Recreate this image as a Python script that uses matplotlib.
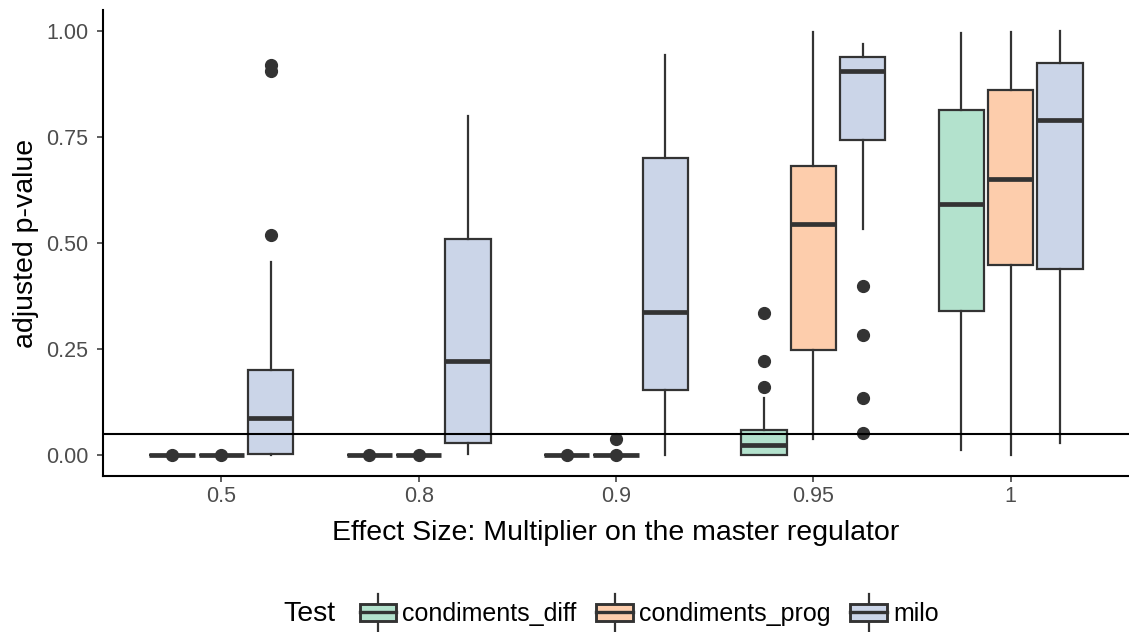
import matplotlib
matplotlib.use("Agg")
import matplotlib.pyplot as plt
from matplotlib.patches import Rectangle
from matplotlib.lines import Line2D
from matplotlib.legend_handler import HandlerBase

plt.rcParams["font.family"] = ["Liberation Sans", "DejaVu Sans"]

effect_sizes = ["0.5", "0.8", "0.9", "0.95", "1"]
tests = ["condiments_diff", "condiments_prog", "milo"]
test_colors = ["#B3E2CD", "#FDCDAC", "#CBD5E8"]

# five-number summaries per test, one entry per effect size
diff_q1 = [0.0, 0.0, 0.0, 0.0, 0.340]
diff_med = [0.0, 0.0, 0.0, 0.024, 0.593]
diff_q3 = [0.0, 0.0, 0.0, 0.059, 0.815]
diff_lo = [0.0, 0.0, 0.0, 0.0, 0.012]
diff_hi = [0.0, 0.0, 0.0, 0.133, 0.996]
diff_out = [[0.0], [0.0], [0.0], [0.159, 0.222, 0.334], []]

prog_q1 = [0.0, 0.0, 0.0, 0.248, 0.447]
prog_med = [0.0, 0.0, 0.0, 0.544, 0.652]
prog_q3 = [0.0, 0.0, 0.0, 0.681, 0.861]
prog_lo = [0.0, 0.0, 0.0, 0.038, 0.0]
prog_hi = [0.0, 0.0, 0.0, 0.998, 0.998]
prog_out = [[0.0], [0.0], [0.0, 0.038], [], []]

milo_q1 = [0.003, 0.028, 0.154, 0.742, 0.438]
milo_med = [0.088, 0.222, 0.336, 0.907, 0.790]
milo_q3 = [0.200, 0.510, 0.700, 0.939, 0.925]
milo_lo = [0.0, 0.002, 0.0, 0.532, 0.027]
milo_hi = [0.456, 0.800, 0.943, 0.969, 1.0]
milo_out = [[0.52, 0.905, 0.92], [], [], [0.052, 0.133, 0.284, 0.399], []]

summaries = [
    (diff_q1, diff_med, diff_q3, diff_lo, diff_hi, diff_out),
    (prog_q1, prog_med, prog_q3, prog_lo, prog_hi, prog_out),
    (milo_q1, milo_med, milo_q3, milo_lo, milo_hi, milo_out),
]

significance_cutoff = 0.05
y_ticks = [0.0, 0.25, 0.5, 0.75, 1.0]
y_ticklabels = ["0.00", "0.25", "0.50", "0.75", "1.00"]

EDGE = "#333333"
LW = 1.6
MED_LW = 3.4

fig = plt.figure(figsize=(11.29, 6.32), dpi=100)
ax = fig.add_axes([103 / 1129, 1 - 476 / 632, 1 - 103 / 1129, (476 - 10) / 632])

offsets = [-0.25, 0.0, 0.25]
box_w = 0.23
for (q1, med, q3, lo, hi, out), color, off in zip(summaries, test_colors, offsets):
    stats = []
    for i in range(len(effect_sizes)):
        stats.append(dict(q1=q1[i], med=med[i], q3=q3[i], whislo=lo[i],
                          whishi=hi[i], fliers=out[i]))
    positions = [i + 1 + off for i in range(len(effect_sizes))]
    ax.bxp(stats, positions=positions, widths=box_w, patch_artist=True,
           showcaps=False, manage_ticks=False,
           boxprops=dict(facecolor=color, edgecolor=EDGE, linewidth=LW),
           whiskerprops=dict(color=EDGE, linewidth=LW),
           medianprops=dict(color=EDGE, linewidth=MED_LW, solid_capstyle="butt"),
           flierprops=dict(marker="o", markerfacecolor=EDGE, markeredgecolor=EDGE,
                           markersize=8.5, linestyle="none"))

ax.axhline(significance_cutoff, color="black", linewidth=1.5, zorder=5)

ax.set_xlim(0.4, len(effect_sizes) + 0.6)
ax.set_ylim(-0.05, 1.05)
ax.set_xticks(range(1, len(effect_sizes) + 1))
ax.set_xticklabels(effect_sizes)
ax.set_yticks(y_ticks)
ax.set_yticklabels(y_ticklabels)
ax.tick_params(axis="both", colors="#333333", labelcolor="#4D4D4D",
               labelsize=15.5, length=4.5, width=1.1)
ax.tick_params(axis="x", pad=3)
ax.tick_params(axis="y", pad=6)
for side in ["top", "right"]:
    ax.spines[side].set_visible(False)
for side in ["left", "bottom"]:
    ax.spines[side].set_linewidth(1.5)
    ax.spines[side].set_color("black")

ax.set_xlabel("Effect Size: Multiplier on the master regulator", fontsize=20.5,
              labelpad=9)
ax.set_ylabel("adjusted p-value", fontsize=20.5, labelpad=5)


class BoxKeyHandler(HandlerBase):
    def create_artists(self, legend, orig_handle, xdescent, ydescent, width,
                       height, fontsize, trans):
        x0, y0 = -xdescent, -ydescent
        cx = x0 + width / 2
        cy = y0 + height / 2
        bh = height * 0.9
        rect = Rectangle((x0, cy - bh / 2), width, bh,
                         facecolor=orig_handle.get_facecolor(),
                         edgecolor=EDGE, linewidth=LW * 1.3, transform=trans)
        med = Line2D([x0, x0 + width], [cy, cy], color=EDGE, linewidth=LW * 1.5,
                     transform=trans)
        up = Line2D([cx, cx], [cy + bh / 2, cy + height * 0.95], color=EDGE,
                    linewidth=LW, transform=trans)
        dn = Line2D([cx, cx], [cy - bh / 2, cy - height * 0.95], color=EDGE,
                    linewidth=LW, transform=trans)
        return [up, dn, rect, med]


handles = [Rectangle((0, 0), 1, 1, facecolor=c) for c in test_colors]
leg = fig.legend(handles, tests, loc="center left",
                 bbox_to_anchor=(342 / 1129, 1 - 614 / 632), ncol=3,
                 frameon=False, fontsize=18, handlelength=1.45,
                 handleheight=0.82, handletextpad=0.25, columnspacing=0.8,
                 borderpad=0.2, handler_map={Rectangle: BoxKeyHandler()})
fig.text(283 / 1129, 1 - 614 / 632, "Test", fontsize=20.5, va="center", ha="left")

fig.savefig("out.png", dpi=100)
